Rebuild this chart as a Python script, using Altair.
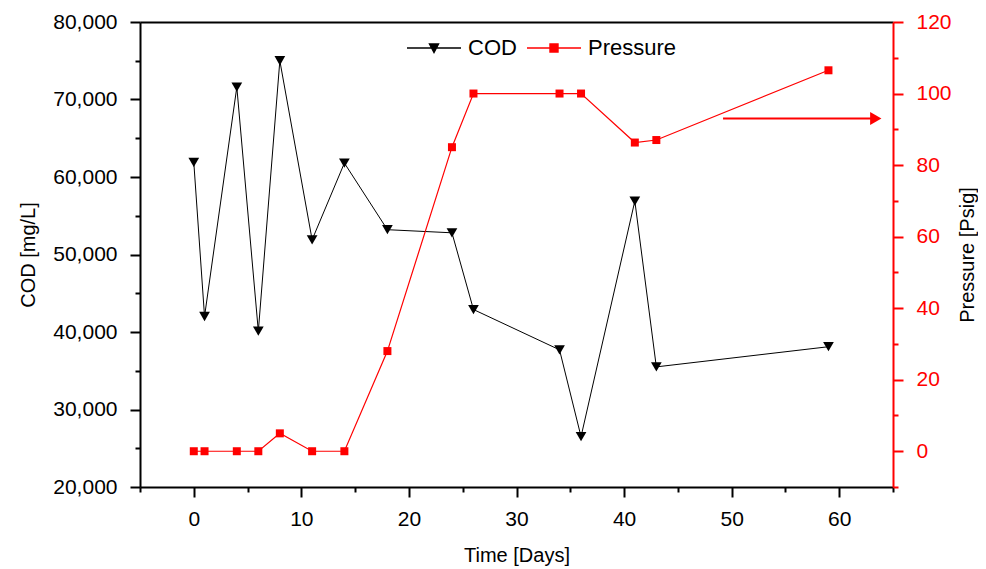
import altair as alt
import pandas as pd

# ---- data ----
days = [0, 1, 4, 6, 8, 11, 14, 18, 24, 26, 34, 36, 41, 43, 59]
cod = [61900, 42000, 71600, 40100, 75000, 51900, 61800, 53200, 52800,
       42900, 37700, 26500, 56900, 35500, 38100]
pressure = [0, 0, 0, 0, 5, 0, 0, 28, 85, 100, 100, 100, 86.3, 87, 106.5]
arrow_days = [49.2, 63.4]
arrow_pressure = [93, 93]
series = ["COD", "Pressure"]
series_colors = ["black", "red"]
legend_paths = [
    "M-1,0H1M-0.17,-0.15H0.17L0,0.17Z",
    "M-1,0H1M-0.15,-0.15H0.15V0.15H-0.15Z",
]
x_ticks = list(range(-5, 66, 5))
cod_ticks = list(range(20000, 80001, 5000))
p_ticks = list(range(-10, 121, 10))

FONT = "Liberation Sans"
W, H = 753, 465

cod_df = pd.DataFrame({"day": days, "cod": cod})
p_df = pd.DataFrame({"day": days, "pressure": pressure})
arrow_df = pd.DataFrame({"day": arrow_days, "pressure": arrow_pressure})
legend_df = pd.DataFrame({"series": series})

x_scale = alt.Scale(domain=[-5, 65], nice=False, zero=False)

x_axis_bottom = alt.Axis(
    values=x_ticks,
    labelExpr="datum.value % 10 === 0 ? datum.label : ''",
    tickSize={"condition": {"test": "datum.value % 10 === 0", "value": 10}, "value": 5},
    title="Time [Days]", titlePadding=16, labelPadding=11,
    domainColor="black", tickColor="black", labelColor="black",
    labelOverlap=False, labelFlush=False,
)
x_axis_top = alt.Axis(orient="top", labels=False, ticks=False, title=None,
                      domainColor="black", domainWidth=2)

x_cod = alt.X("day:Q", scale=x_scale, axis=x_axis_bottom)
x_p = alt.X("day:Q", scale=x_scale, axis=x_axis_top)

y_cod = alt.Y(
    "cod:Q",
    scale=alt.Scale(domain=[20000, 80000], nice=False, zero=False),
    axis=alt.Axis(
        values=cod_ticks,
        labelExpr="datum.value % 10000 === 0 ? format(datum.value, ',') : ''",
        tickSize={"condition": {"test": "datum.value % 10000 === 0", "value": 10}, "value": 5},
        title="COD [mg/L]", titlePadding=14, labelPadding=13,
        labelOverlap=False, labelFlush=False,
    ),
)
y_p = alt.Y(
    "pressure:Q",
    scale=alt.Scale(domain=[-10, 120], nice=False, zero=False),
    axis=alt.Axis(
        orient="right",
        values=p_ticks,
        labelExpr="datum.value % 20 === 0 ? datum.label : ''",
        tickSize={"condition": {"test": "datum.value % 20 === 0", "value": 10}, "value": 5},
        labelColor="red", tickColor="red", domainColor="red",
        title="Pressure [Psig]", titleColor="black", titleAngle=270,
        titleBaseline="top", titlePadding=6, labelPadding=13,
        labelOverlap=False, labelFlush=False,
    ),
)

cod_line = alt.Chart(cod_df).mark_line(color="black", strokeWidth=1).encode(x=x_cod, y=y_cod)
cod_pts = alt.Chart(cod_df).mark_point(
    shape="triangle-down", filled=True, color="black", size=115, opacity=1
).encode(x=x_cod, y=y_cod)
cod_layer = alt.layer(cod_line, cod_pts)

p_line = alt.Chart(p_df).mark_line(color="red", strokeWidth=1.2).encode(x=x_p, y=y_p)
p_pts = alt.Chart(p_df).mark_point(
    shape="square", filled=True, color="red", size=64, opacity=1
).encode(x=x_p, y=y_p)
arrow_line = alt.Chart(arrow_df).mark_line(color="red", strokeWidth=2).encode(x=x_p, y=y_p)
arrow_head = alt.Chart(arrow_df.tail(1)).mark_point(
    shape="triangle-right", filled=True, color="red", size=170, opacity=1
).encode(x=x_p, y=y_p)

leg = alt.Legend(
    title=None, orient="none", legendX=266, legendY=-2, direction="horizontal",
    symbolSize=2916, symbolStrokeWidth=1.3, symbolOpacity=1,
    labelFont=FONT, labelFontSize=22, labelColor="black",
    labelOffset=6, columnPadding=7, padding=0,
)
legend_layer = alt.Chart(legend_df).mark_point(filled=True, opacity=0).encode(
    fill=alt.Fill("series:N", scale=alt.Scale(domain=series, range=series_colors), legend=leg),
    stroke=alt.Stroke("series:N", scale=alt.Scale(domain=series, range=series_colors), legend=leg),
    shape=alt.Shape("series:N", scale=alt.Scale(domain=series, range=legend_paths), legend=leg),
)

p_layer = alt.layer(p_line, p_pts, arrow_line, arrow_head, legend_layer)

chart = (
    alt.layer(cod_layer, p_layer)
    .resolve_scale(y="independent")
    .resolve_axis(x="independent")
    .properties(
        width=W, height=H, autosize="none",
        padding={"left": 132, "top": 14, "right": 85, "bottom": 80},
        background="white",
    )
    .configure_view(stroke=None)
    .configure_axis(
        labelFont=FONT, titleFont=FONT, labelFontSize=21, titleFontSize=20,
        titleFontWeight="normal", domainWidth=2, tickWidth=2, grid=False,
        domainColor="black", tickColor="black", labelColor="black", titleColor="black",
    )
)

chart.save("out.html", embed_options={"renderer": "svg", "actions": False})
